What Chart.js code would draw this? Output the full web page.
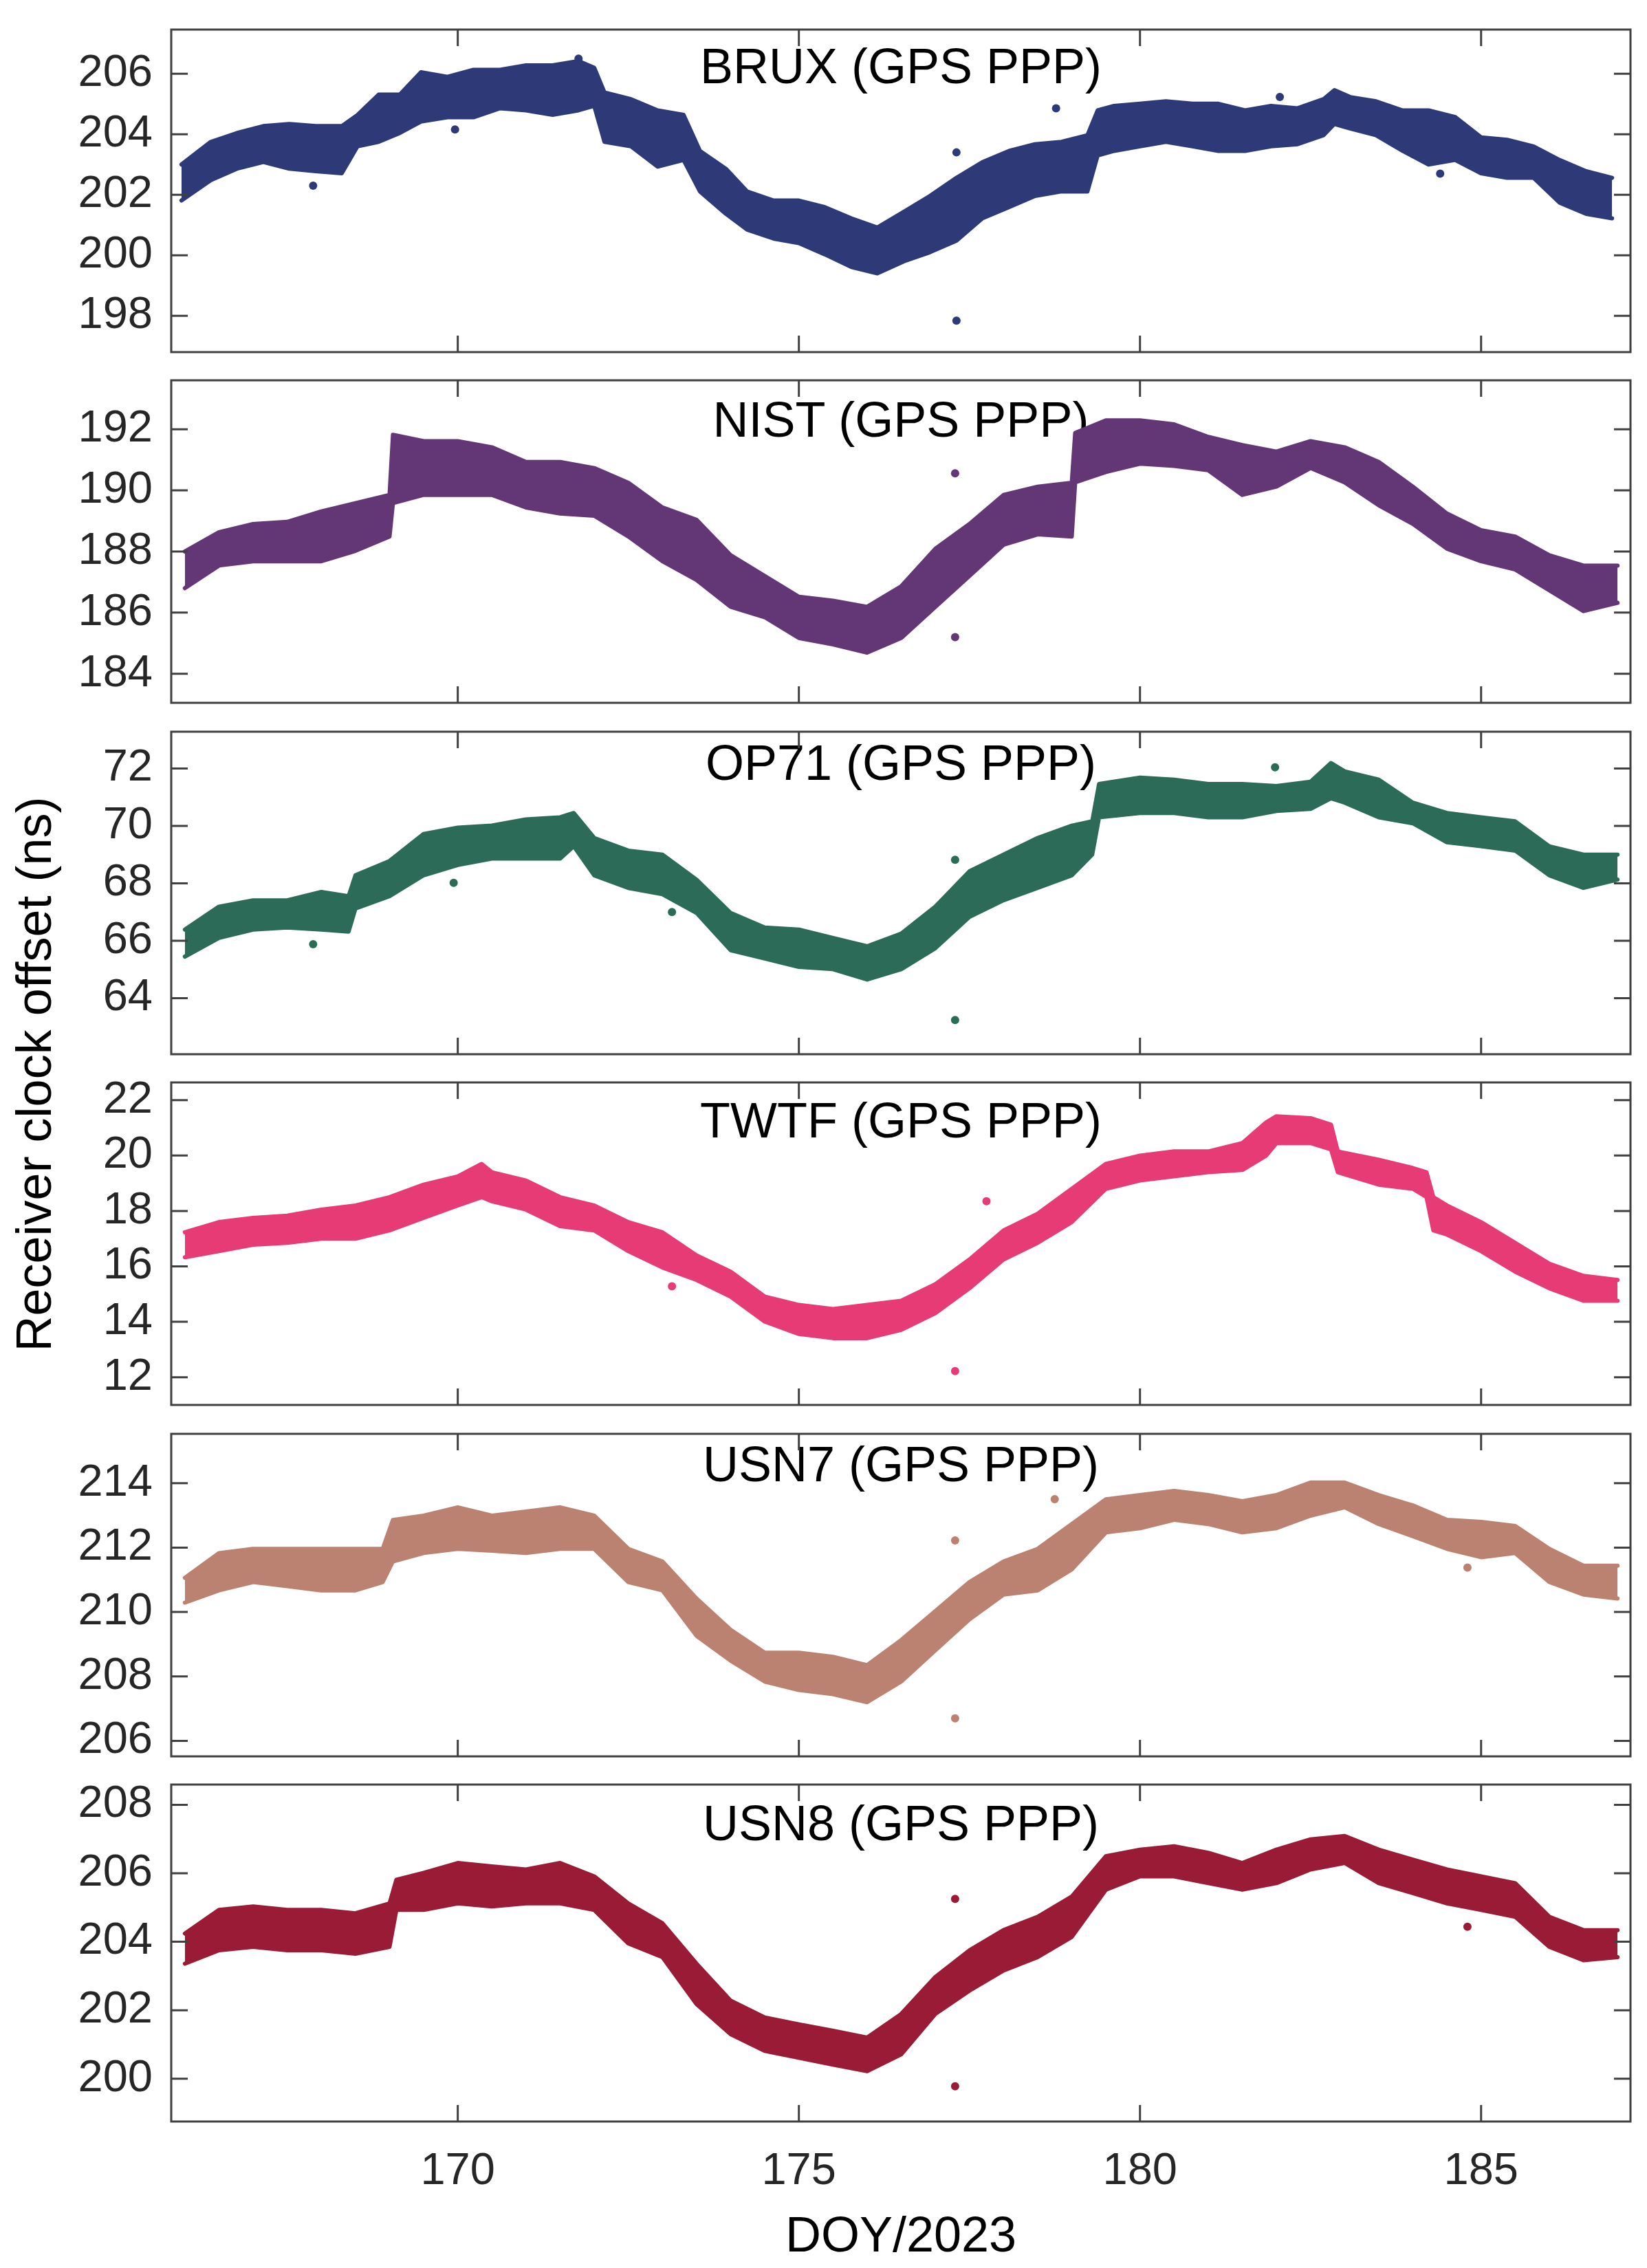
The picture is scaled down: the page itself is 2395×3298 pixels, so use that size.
<!DOCTYPE html>
<html>
<head>
<meta charset="utf-8">
<script src="https://cdn.jsdelivr.net/npm/chart.js@4.4.1/dist/chart.umd.min.js"></script>
<style>
  body { margin: 0; background: #fff; width: 2395px; height: 3298px; position: relative; overflow: hidden;
         font-family: "Liberation Sans", Arial, sans-serif; }
  canvas { position: absolute; left: 0; z-index: 1; }
  .lbl { position: absolute; font-size: 72px; line-height: 72px; color: #000; text-align: center;
         white-space: nowrap; width: 1200px; z-index: 0; }
</style>
</head>
<body>
<script>
// x axis (DOY/2023)
const xTicks = [170, 175, 180, 185];

// BRUX
const bruxDay = [165.95, 166.38, 166.76, 167.15, 167.53, 167.92, 168.3, 168.53, 168.84, 169.15, 169.46, 169.85,
  170.23, 170.62, 171.0, 171.39, 171.77, 172.0, 172.15, 172.54, 172.93, 173.31, 173.55, 173.93, 174.24, 174.63,
  175.0, 175.38, 175.77, 176.15, 176.54, 176.92, 177.31, 177.69, 178.08, 178.46, 178.85, 179.23, 179.38, 179.62,
  180.0, 180.38, 180.77, 181.15, 181.54, 181.92, 182.31, 182.69, 182.85, 183.08, 183.46, 183.85, 184.23, 184.62,
  185.0, 185.38, 185.77, 186.15, 186.54, 186.92];
const bruxHigh = [203.0, 203.75, 204.04, 204.27, 204.34, 204.27, 204.27, 204.64, 205.31, 205.31, 206.05, 205.9,
  206.13, 206.13, 206.28, 206.28, 206.42, 206.2, 205.38, 205.16, 204.79, 204.64, 203.45, 202.86, 202.11, 201.81,
  201.81, 201.59, 201.22, 200.92, 201.44, 201.96, 202.56, 203.08, 203.45, 203.67, 203.75, 203.97, 204.79, 204.94,
  205.01, 205.09, 205.01, 205.01, 204.79, 204.94, 204.86, 205.16, 205.46, 205.23, 205.09, 204.79, 204.79, 204.57,
  203.9, 203.82, 203.6, 203.15, 202.78, 202.56];
const bruxLow = [201.81, 202.48, 202.86, 203.08, 202.86, 202.78, 202.71, 203.6, 203.75, 204.04, 204.42, 204.56,
  204.56, 204.86, 204.79, 204.64, 204.79, 204.94, 203.75, 203.6, 202.93, 203.15, 202.11, 201.37, 200.85, 200.55,
  200.4, 200.03, 199.61, 199.4, 199.8, 200.1, 200.48, 201.22, 201.59, 201.96, 202.11, 202.11, 203.3, 203.45,
  203.6, 203.75, 203.6, 203.45, 203.45, 203.6, 203.67, 203.97, 204.34, 204.19, 203.97, 203.45, 203.0, 203.15,
  202.71, 202.56, 202.56, 201.74, 201.37, 201.22];
const bruxOutDay = [167.88, 169.96, 171.77, 177.31, 177.31, 178.77, 182.05, 184.4, 184.82];
const bruxOutVal = [202.3, 204.16, 206.5, 203.4, 197.84, 204.86, 205.23, 202.7, 203.0];
const bruxTicks = [198, 200, 202, 204, 206];

// NIST
const nistDay = [166, 166.5, 167, 167.5, 168, 168.5, 169, 169.05, 169.5, 170, 170.5, 171, 171.5, 172, 172.5,
  173, 173.5, 174, 174.5, 175, 175.5, 176, 176.5, 177, 177.5, 178, 178.5, 179, 179.05, 179.5, 180, 180.5, 181,
  181.5, 182, 182.5, 183, 183.5, 184, 184.5, 185, 185.5, 186, 186.5, 187];
const nistHigh = [188.0, 188.63, 188.9, 188.97, 189.31, 189.58, 189.85, 191.82, 191.61, 191.61, 191.41, 190.93,
  190.93, 190.73, 190.25, 189.44, 189.04, 187.88, 187.2, 186.52, 186.39, 186.19, 186.86, 188.09, 188.9, 189.85,
  190.12, 190.25, 191.88, 192.29, 192.29, 192.16, 191.75, 191.48, 191.27, 191.61, 191.41, 190.93, 190.12, 189.24,
  188.7, 188.49, 187.88, 187.54, 187.54];
const nistLow = [186.8, 187.54, 187.68, 187.68, 187.68, 188.02, 188.49, 189.58, 189.85, 189.85, 189.85, 189.44,
  189.24, 189.17, 188.49, 187.68, 187.07, 186.19, 185.85, 185.17, 184.96, 184.69, 185.17, 186.19, 187.2, 188.22,
  188.56, 188.49, 190.26, 190.6, 190.87, 190.8, 190.66, 189.85, 190.12, 190.73, 190.26, 189.51, 188.9, 188.09,
  187.68, 187.41, 186.73, 186.05, 186.32];
const nistOutDay = [177.29, 177.29];
const nistOutVal = [190.56, 185.2];
const nistTicks = [184, 186, 188, 190, 192];

// OP71
const op71Day = [166, 166.5, 167, 167.5, 168, 168.4, 168.5, 169, 169.5, 170, 170.5, 171, 171.5, 171.7, 172,
  172.5, 173, 173.5, 174, 174.5, 175, 175.5, 176, 176.5, 177, 177.5, 178, 178.5, 179, 179.3, 179.4, 180, 180.5,
  181, 181.5, 182, 182.5, 182.8, 183, 183.5, 184, 184.5, 185, 185.5, 186, 186.5, 187];
const op71High = [66.39, 67.19, 67.41, 67.41, 67.7, 67.55, 68.28, 68.78, 69.72, 69.94, 70.01, 70.23, 70.3, 70.45,
  69.58, 69.14, 69.0, 68.13, 66.97, 66.46, 66.39, 66.1, 65.81, 66.25, 67.19, 68.42, 69.0, 69.58, 70.01, 70.16,
  71.46, 71.68, 71.61, 71.46, 71.46, 71.39, 71.54, 72.19, 71.9, 71.61, 70.81, 70.45, 70.3, 70.16, 69.29, 69.0, 69.0];
const op71Low = [65.45, 66.1, 66.39, 66.46, 66.39, 66.32, 67.12, 67.55, 68.28, 68.64, 68.86, 68.86, 68.86, 69.29,
  68.28, 67.84, 67.62, 66.97, 65.67, 65.38, 65.09, 65.01, 64.65, 65.01, 65.74, 66.83, 67.41, 67.84, 68.28, 69.0,
  70.3, 70.45, 70.45, 70.3, 70.3, 70.52, 70.59, 70.96, 70.81, 70.3, 70.09, 69.43, 69.29, 69.14, 68.28, 67.84, 68.13];
const op71OutDay = [177.29, 177.29, 167.88, 173.14, 169.94, 181.98];
const op71OutVal = [68.82, 63.24, 65.88, 67.0, 68.02, 72.04];
const op71Ticks = [64, 66, 68, 70, 72];

// TWTF
const twtfDay = [166, 166.5, 167, 167.5, 168, 168.5, 169, 169.5, 170, 170.35, 170.5, 171, 171.5, 172, 172.5, 173,
  173.5, 174, 174.5, 175, 175.5, 176, 176.5, 177, 177.5, 178, 178.5, 179, 179.5, 180, 180.5, 181, 181.5, 181.85,
  182, 182.5, 182.8, 182.9, 183.5, 184, 184.2, 184.3, 184.5, 185, 185.5, 186, 186.5, 187];
const twtfHigh = [17.23, 17.6, 17.75, 17.83, 18.05, 18.2, 18.5, 18.95, 19.25, 19.7, 19.4, 19.1, 18.5, 18.2, 17.6,
  17.23, 16.4, 15.81, 14.91, 14.61, 14.46, 14.61, 14.76, 15.36, 16.25, 17.3, 17.9, 18.8, 19.7, 20.0, 20.15, 20.15,
  20.45, 21.2, 21.42, 21.35, 21.12, 20.15, 19.85, 19.55, 19.4, 18.5, 18.2, 17.6, 16.85, 16.1, 15.66, 15.51];
const twtfLow = [16.33, 16.55, 16.78, 16.85, 17.0, 17.0, 17.3, 17.75, 18.2, 18.5, 18.35, 18.05, 17.45, 17.3, 16.55,
  15.96, 15.51, 14.91, 14.01, 13.56, 13.41, 13.41, 13.71, 14.31, 15.21, 16.25, 16.85, 17.6, 18.8, 19.1, 19.25, 19.4,
  19.48, 20.0, 20.45, 20.45, 20.22, 19.4, 18.95, 18.8, 18.5, 17.3, 17.15, 16.55, 15.81, 15.21, 14.76, 14.76];
const twtfOutDay = [177.29, 177.75, 173.14];
const twtfOutVal = [12.22, 18.35, 15.28];
const twtfTicks = [12, 14, 16, 18, 20, 22];

// USN7
const usn7Day = [166, 166.5, 167, 167.5, 168, 168.5, 168.9, 169.05, 169.5, 170, 170.5, 171, 171.5, 172, 172.5,
  173, 173.5, 174, 174.5, 175, 175.5, 176, 176.5, 177, 177.5, 178, 178.5, 179, 179.5, 180, 180.5, 181, 181.5, 182,
  182.5, 183, 183.5, 184, 184.5, 185, 185.5, 186, 186.5, 187];
const usn7High = [211.06, 211.83, 211.96, 211.96, 211.96, 211.96, 211.96, 212.86, 212.99, 213.25, 212.99, 213.12,
  213.25, 212.99, 211.96, 211.57, 210.42, 209.45, 208.74, 208.74, 208.61, 208.35, 209.13, 210.03, 210.93, 211.57,
  211.96, 212.73, 213.5, 213.63, 213.76, 213.63, 213.44, 213.63, 214.02, 214.02, 213.63, 213.31, 212.86, 212.8,
  212.67, 211.96, 211.44, 211.44];
const usn7Low = [210.29, 210.67, 210.93, 210.8, 210.67, 210.67, 210.93, 211.57, 211.83, 211.96, 211.9, 211.83,
  211.96, 211.96, 210.93, 210.67, 209.26, 208.49, 207.84, 207.58, 207.45, 207.2, 207.84, 208.81, 209.77, 210.54,
  210.67, 211.32, 212.47, 212.6, 212.86, 212.73, 212.47, 212.6, 212.99, 213.25, 212.73, 212.35, 211.96, 211.7,
  211.83, 210.93, 210.54, 210.42];
const usn7OutDay = [177.29, 177.29, 184.8, 178.75];
const usn7OutVal = [212.22, 206.7, 211.38, 213.5];
const usn7Ticks = [206, 208, 210, 212, 214];

// USN8
const usn8Day = [166, 166.5, 167, 167.5, 168, 168.5, 169, 169.1, 169.5, 170, 170.5, 171, 171.5, 172, 172.5, 173,
  173.5, 174, 174.5, 175, 175.5, 176, 176.5, 177, 177.5, 178, 178.5, 179, 179.5, 180, 180.5, 181, 181.5, 182, 182.5,
  183, 183.5, 184, 184.5, 185, 185.5, 186, 186.5, 187];
const usn8High = [204.24, 204.93, 205.03, 204.93, 204.93, 204.83, 205.12, 205.81, 206.01, 206.3, 206.2, 206.11,
  206.3, 205.91, 205.12, 204.54, 203.36, 202.28, 201.79, 201.59, 201.4, 201.2, 201.89, 202.97, 203.75, 204.34,
  204.73, 205.32, 206.5, 206.69, 206.79, 206.6, 206.3, 206.69, 206.99, 207.09, 206.69, 206.4, 206.11, 205.91,
  205.71, 204.73, 204.34, 204.34];
const usn8Low = [203.36, 203.75, 203.85, 203.75, 203.75, 203.65, 203.85, 204.93, 204.93, 205.12, 205.03, 205.12,
  205.12, 204.93, 203.95, 203.55, 202.18, 201.3, 200.81, 200.61, 200.41, 200.22, 200.71, 201.89, 202.57, 203.16,
  203.55, 204.14, 205.52, 205.91, 205.91, 205.71, 205.52, 205.71, 206.11, 206.3, 205.71, 205.42, 205.12, 204.93,
  204.73, 203.85, 203.46, 203.55];
const usn8OutDay = [177.29, 177.29, 184.8];
const usn8OutVal = [205.25, 199.78, 204.44];
const usn8Ticks = [200, 202, 204, 206, 208];

// layout (px)
const LEFT = 249, RIGHT = 2371, TOP = 22, PANEL_H = 510.5, PAD = 45, XAX = 130, TICK = 24;
const FONT = '"Liberation Sans", Arial, sans-serif';

const panels = [
  { title: "BRUX (GPS PPP)", day: bruxDay, hi: bruxHigh, lo: bruxLow, outDay: bruxOutDay, outVal: bruxOutVal,
    ticks: bruxTicks, min: 196.8, max: 207.46, color: "#2e3a78", drop: 99 },
  { title: "NIST (GPS PPP)", day: nistDay, hi: nistHigh, lo: nistLow, outDay: nistOutDay, outVal: nistOutVal,
    ticks: nistTicks, min: 183.05, max: 193.6, color: "#633776", drop: 102 },
  { title: "OP71 (GPS PPP)", day: op71Day, hi: op71High, lo: op71Low, outDay: op71OutDay, outVal: op71OutVal,
    ticks: op71Ticks, min: 62.05, max: 73.28, color: "#2b6b57", drop: 91 },
  { title: "TWTF (GPS PPP)", day: twtfDay, hi: twtfHigh, lo: twtfLow, outDay: twtfOutDay, outVal: twtfOutVal,
    ticks: twtfTicks, min: 11.0, max: 22.64, color: "#e63b75", drop: 100 },
  { title: "USN7 (GPS PPP)", day: usn7Day, hi: usn7High, lo: usn7Low, outDay: usn7OutDay, outVal: usn7OutVal,
    ticks: usn7Ticks, min: 205.52, max: 215.53, color: "#bb8272", drop: 90 },
  { title: "USN8 (GPS PPP)", day: usn8Day, hi: usn8High, lo: usn8Low, outDay: usn8OutDay, outVal: usn8OutVal,
    ticks: usn8Ticks, min: 198.75, max: 208.59, color: "#9a1b36", drop: 101 }
];

// box and inward ticks on all four sides, like the original axes
const framePlugin = {
  id: "frame",
  afterDraw(chart) {
    const { ctx, chartArea: a, scales: { x, y } } = chart;
    ctx.save();
    ctx.strokeStyle = "#404040";
    ctx.lineWidth = 3;
    ctx.strokeRect(a.left, a.top, a.right - a.left, a.bottom - a.top);
    ctx.beginPath();
    xTicks.forEach(v => {
      const px = x.getPixelForValue(v);
      ctx.moveTo(px, a.top); ctx.lineTo(px, a.top + TICK);
      ctx.moveTo(px, a.bottom); ctx.lineTo(px, a.bottom - TICK);
    });
    y.ticks.forEach(t => {
      const py = y.getPixelForValue(t.value);
      ctx.moveTo(a.left, py); ctx.lineTo(a.left + TICK, py);
      ctx.moveTo(a.right, py); ctx.lineTo(a.right - TICK, py);
    });
    ctx.stroke();
    ctx.restore();
  }
};

function addLabel(text, left, top, extra) {
  const d = document.createElement("div");
  d.className = "lbl";
  d.textContent = text;
  d.style.left = left + "px";
  d.style.top = top + "px";
  if (extra) Object.assign(d.style, extra);
  document.body.appendChild(d);
}

const mid = (LEFT + RIGHT) / 2;

panels.forEach((p, i) => {
  const last = i === panels.length - 1;
  const panelTop = TOP + i * PANEL_H;
  const canvasTop = Math.floor(panelTop - PAD);
  const padTop = panelTop - canvasTop;
  const canvasH = last ? Math.ceil(padTop + PANEL_H + XAX) : Math.ceil(padTop + PANEL_H + PAD);
  const padBottom = canvasH - padTop - PANEL_H - (last ? XAX : 0);

  // panel title sits behind the points
  addLabel(p.title, mid - 600, panelTop + p.drop - 61);

  const canvas = document.createElement("canvas");
  canvas.width = 2395;
  canvas.height = canvasH;
  canvas.style.top = canvasTop + "px";
  canvas.style.width = "2395px";
  canvas.style.height = canvasH + "px";
  document.body.appendChild(canvas);

  const lineStyle = { showLine: true, borderColor: p.color, backgroundColor: p.color, borderWidth: 6,
    borderJoinStyle: "round", borderCapStyle: "round", pointRadius: 0, tension: 0 };

  new Chart(canvas, {
    type: "scatter",
    data: {
      datasets: [
        Object.assign({ data: p.day.map((d, k) => ({ x: d, y: p.hi[k] })), fill: false }, lineStyle),
        Object.assign({ data: p.day.map((d, k) => ({ x: d, y: p.lo[k] })), fill: "-1" }, lineStyle),
        { data: p.outDay.map((d, k) => ({ x: d, y: p.outVal[k] })), pointRadius: 6, borderWidth: 0,
          backgroundColor: p.color }
      ]
    },
    options: {
      responsive: false,
      animation: false,
      devicePixelRatio: 1,
      layout: { padding: { top: padTop, bottom: padBottom, left: 0, right: 2395 - RIGHT } },
      plugins: { legend: { display: false }, tooltip: { enabled: false } },
      scales: {
        x: {
          type: "linear", min: 165.8, max: 187.19, display: last,
          afterBuildTicks: s => { s.ticks = xTicks.map(v => ({ value: v })); },
          afterFit: s => { s.height = last ? XAX : 0; },
          grid: { display: false, drawTicks: false },
          border: { display: false },
          ticks: { font: { family: FONT, size: 65 }, color: "#262626", padding: 34, maxRotation: 0 }
        },
        y: {
          type: "linear", min: p.min, max: p.max,
          afterBuildTicks: s => { s.ticks = p.ticks.map(v => ({ value: v })); },
          afterFit: s => { s.width = LEFT; },
          grid: { display: false, drawTicks: false },
          border: { display: false },
          ticks: { font: { family: FONT, size: 65 }, color: "#262626", padding: 27, autoSkip: false }
        }
      }
    },
    plugins: [framePlugin]
  });
});

// axis titles
const plotBottom = TOP + panels.length * PANEL_H;
addLabel("DOY/2023", mid - 600, 3213);
addLabel("Receiver clock offset (ns)", 49 - 600, (TOP + plotBottom) / 2 + 8 - 36,
  { transform: "rotate(-90deg)", transformOrigin: "50% 50%" });
</script>
</body>
</html>
